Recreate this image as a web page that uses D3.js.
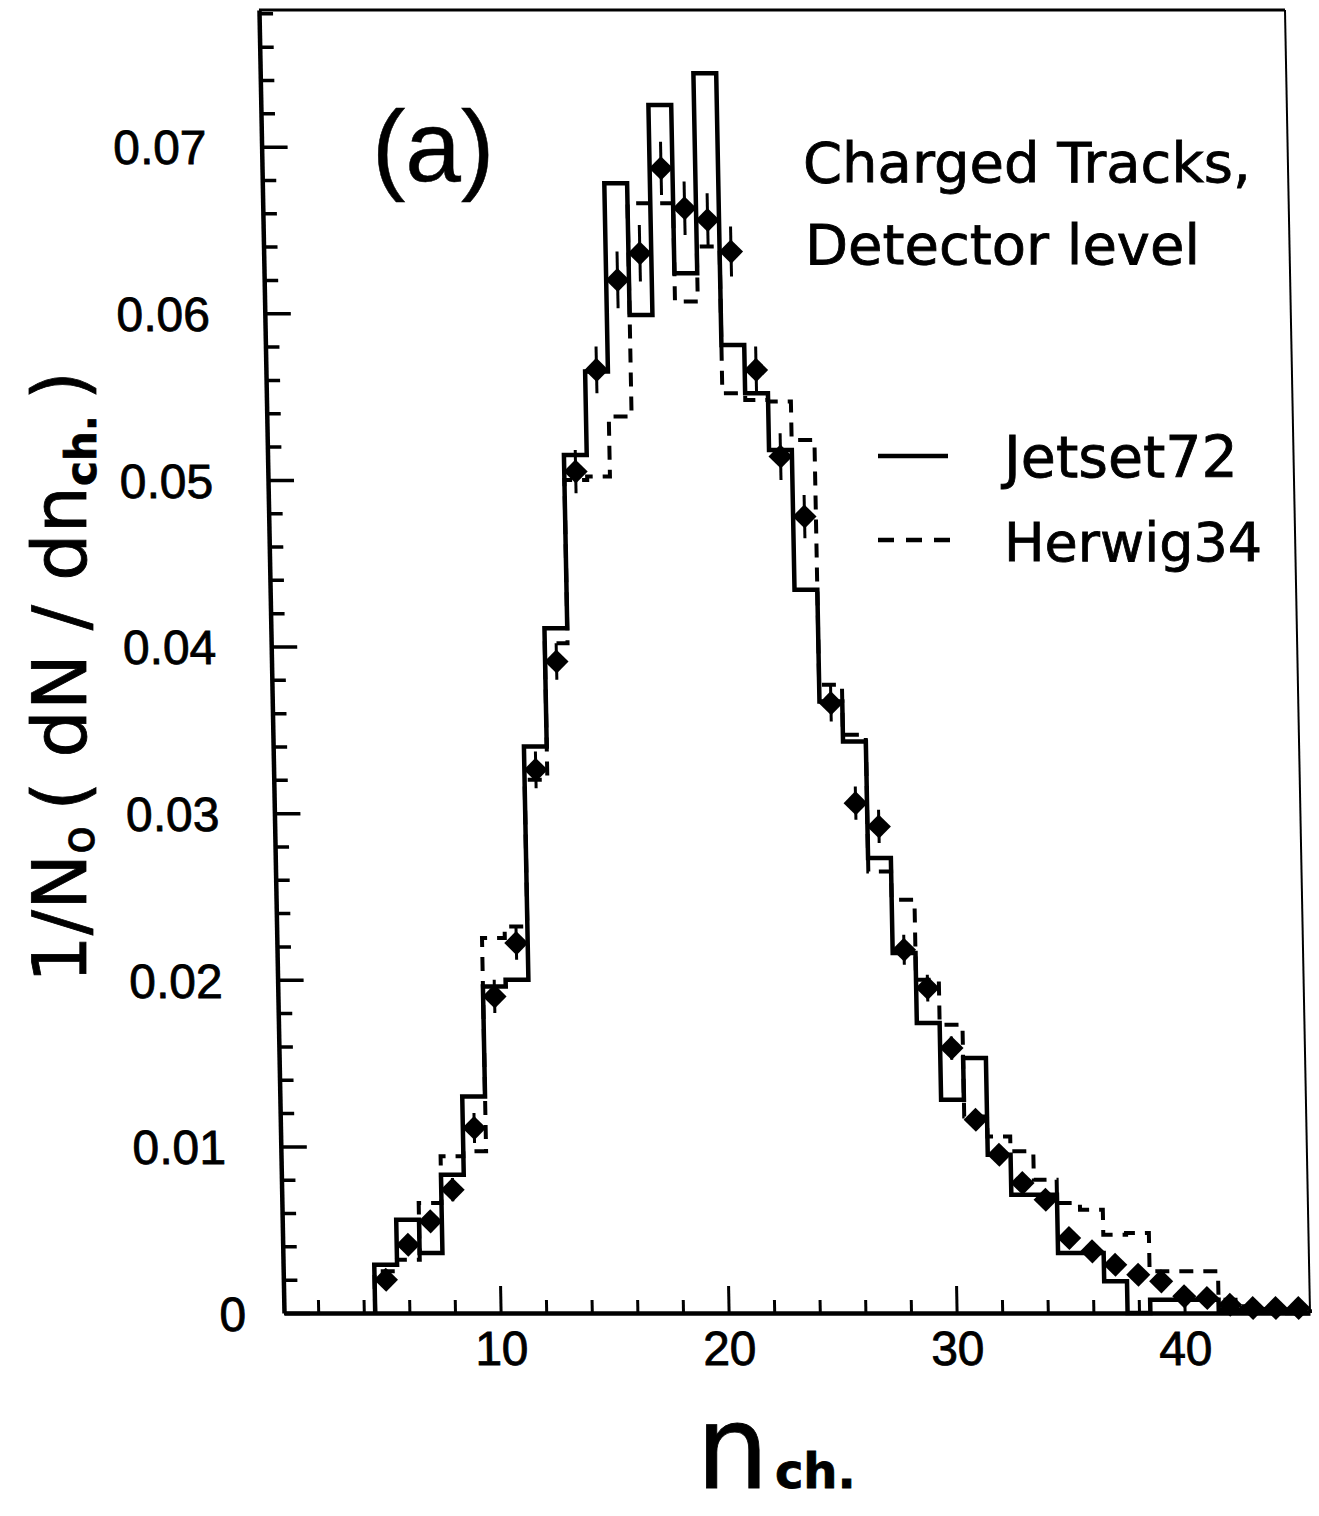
<!DOCTYPE html>
<html>
<head>
<meta charset="utf-8">
<script src="https://cdn.jsdelivr.net/npm/d3@7"></script>
<style>
  body { margin: 0; background: #fff; }
  svg { display: block; background: #fff; }
  text { fill: #000; stroke: #000; stroke-width: 0.8px; }
</style>
</head>
<body>
<svg id="chart" width="1319" height="1516"></svg>
<script>
// Charged multiplicity n_ch (bin centres, width 1)
const nValues = [5, 6, 7, 8, 9, 10, 11, 12, 13, 14, 15, 16, 17, 18, 19, 20, 21, 22, 23, 24, 25,
  26, 27, 28, 29, 30, 31, 32, 33, 34, 35, 36, 37, 38, 39, 40, 41, 42, 43, 44, 45];

// Measured distribution 1/N0 dN/dn_ch (detector level) and its errors
const dataValues = [0.0020, 0.0041, 0.0055, 0.0074, 0.0111, 0.0190, 0.0222, 0.0326, 0.0391, 0.0505,
  0.0566, 0.0620, 0.0636, 0.0687, 0.0663, 0.0656, 0.0637, 0.0566, 0.0514, 0.0478,
  0.0366, 0.0306, 0.0292, 0.0218, 0.0195, 0.0159, 0.0116, 0.0095, 0.0078, 0.0068,
  0.0045, 0.0037, 0.0029, 0.0023, 0.0019, 0.0010, 0.0009, 0.0005, 0.0003, 0.0003, 0.0003];
const dataErrors = [0.0004, 0.0005, 0.0006, 0.0007, 0.0009, 0.0010, 0.0010, 0.0011, 0.0011, 0.0013,
  0.0014, 0.0017, 0.0017, 0.0016, 0.0016, 0.0016, 0.0015, 0.0014, 0.0014, 0.0013,
  0.0011, 0.0010, 0.0010, 0.0009, 0.0008, 0.0007, 0.0006, 0.0005, 0.0005, 0.0004,
  0.0003, 0.0003, 0.0002, 0.0002, 0.0002, 0.0001, 0.0001, 0.0001, 0.0001, 0.0001, 0.0001];

// Monte Carlo predictions
const jetsetValues = [0.0029, 0.0056, 0.0036, 0.0083, 0.0130, 0.0196, 0.0200, 0.0340, 0.0411, 0.0515,
  0.0565, 0.0678, 0.0599, 0.0725, 0.0624, 0.0744, 0.0581, 0.0552, 0.0518, 0.0434,
  0.0367, 0.0343, 0.0273, 0.0216, 0.0174, 0.0128, 0.0153, 0.0095, 0.0071, 0.0071,
  0.0036, 0.0036, 0.0019, 0.0000, 0.0008, 0.0008, 0.0008, 0.0002, 0.0001, 0.0001, 0.0000];
const herwigValues = [0.0025, 0.0032, 0.0066, 0.0094, 0.0097, 0.0225, 0.0232, 0.0320, 0.0402, 0.0500,
  0.0502, 0.0538, 0.0666, 0.0666, 0.0607, 0.0640, 0.0552, 0.0548, 0.0547, 0.0524,
  0.0377, 0.0347, 0.0265, 0.0248, 0.0200, 0.0173, 0.0118, 0.0106, 0.0097, 0.0080,
  0.0066, 0.0062, 0.0047, 0.0048, 0.0025, 0.0025, 0.0025, 0.0008, 0.0004, 0.0002, 0.0001];

// Axis ticks
const xTickValues = [10, 20, 30, 40];
const xMinorTicks = [2, 4, 6, 8, 12, 14, 16, 18, 22, 24, 26, 28, 32, 34, 36, 38, 42, 44];
const yTickValues = [0, 0.01, 0.02, 0.03, 0.04, 0.05, 0.06, 0.07];
const yTickLabels = ["0", "0.01", "0.02", "0.03", "0.04", "0.05", "0.06", "0.07"];
const yMinorTicks = d3.range(1, 40).map(i => +(i * 0.002).toFixed(3)).filter(v => Math.round(v * 1000) % 10 !== 0);

const legendNames = ["Jetset72", "Herwig34"];

const plotLeft = 284, plotRight = 1310, plotTop = 10, plotBottom = 1313;
const x = d3.scaleLinear().domain([0.5, 45.5]).range([plotLeft, plotRight]);
const y = d3.scaleLinear().domain([0, 0.0782]).range([plotBottom, plotTop]);

const svg = d3.select("#chart");
const sans = '"DejaVu Sans", sans-serif';
const narrow = '"Liberation Sans", Arial, sans-serif';

// plot body leans slightly (sheared frame)
const g = svg.append("g")
  .attr("transform", `translate(0,${plotBottom}) skewX(1.1) translate(0,${-plotBottom})`);

// frame top and right
g.append("line").attr("x1", plotLeft).attr("x2", plotRight).attr("y1", plotTop).attr("y2", plotTop)
  .attr("stroke", "#000").attr("stroke-width", 3);
g.append("line").attr("x1", plotRight).attr("x2", plotRight).attr("y1", plotTop).attr("y2", plotBottom)
  .attr("stroke", "#000").attr("stroke-width", 2);

// y axis
const yAxis = g.append("g").attr("transform", `translate(${plotLeft},0)`)
  .call(d3.axisLeft(y).tickValues(yTickValues).tickSizeInner(-26).tickSizeOuter(0)
    .tickPadding(55).tickFormat((d, i) => yTickLabels[i]));
yAxis.select(".domain").attr("stroke-width", 4.5);
yAxis.selectAll(".tick line").attr("stroke-width", 3.5);
yAxis.selectAll(".tick text").attr("font-family", narrow).attr("font-size", 48).attr("dy", "0.36em");
// the zero label sits closer to the axis
yAxis.selectAll(".tick text").filter(d => d === 0).attr("x", -38);
g.append("g").attr("transform", `translate(${plotLeft},0)`)
  .call(d3.axisLeft(y).tickValues(yMinorTicks).tickSizeInner(-14).tickSizeOuter(0).tickFormat(""))
  .call(a => a.select(".domain").remove())
  .selectAll(".tick line").attr("stroke-width", 3.5);

// x axis
const xAxis = g.append("g").attr("transform", `translate(0,${plotBottom})`)
  .call(d3.axisBottom(x).tickValues(xTickValues).tickSizeInner(-27).tickSizeOuter(0)
    .tickPadding(18).tickFormat(d3.format("d")));
xAxis.select(".domain").attr("stroke-width", 4.5);
xAxis.selectAll(".tick line").attr("stroke-width", 3);
xAxis.selectAll(".tick text").attr("font-family", narrow).attr("font-size", 48);
g.append("g").attr("transform", `translate(0,${plotBottom})`)
  .call(d3.axisBottom(x).tickValues(xMinorTicks).tickSizeInner(-13).tickSizeOuter(0).tickFormat(""))
  .call(a => a.select(".domain").remove())
  .selectAll(".tick line").attr("stroke-width", 3);

// step histograms
function stepPath(vals) {
  const p = d3.path();
  p.moveTo(x(nValues[0] - 0.5), y(0));
  nValues.forEach((n, i) => {
    p.lineTo(x(n - 0.5), y(vals[i]));
    p.lineTo(x(n + 0.5), y(vals[i]));
  });
  p.lineTo(x(nValues[nValues.length - 1] + 0.5), y(0));
  return p.toString();
}
g.append("path").attr("d", stepPath(herwigValues))
  .attr("fill", "none").attr("stroke", "#000").attr("stroke-width", 4)
  .attr("stroke-dasharray", "14 10");
g.append("path").attr("d", stepPath(jetsetValues))
  .attr("fill", "none").attr("stroke", "#000").attr("stroke-width", 4.5)
  .attr("stroke-linejoin", "miter");

// data points with error bars
const pts = g.append("g");
pts.selectAll("line.err").data(nValues).join("line")
  .attr("class", "err")
  .attr("x1", d => x(d)).attr("x2", d => x(d))
  .attr("y1", (d, i) => y(dataValues[i] + dataErrors[i]))
  .attr("y2", (d, i) => y(dataValues[i] - dataErrors[i]))
  .attr("stroke", "#000").attr("stroke-width", 3);
pts.selectAll("path.pt").data(nValues).join("path")
  .attr("class", "pt")
  .attr("d", d3.symbol(d3.symbolSquare, 290))
  .attr("transform", (d, i) => `translate(${x(d)},${y(dataValues[i])}) rotate(45)`)
  .attr("fill", "#000");

// panel label and caption
svg.append("text").attr("x", 372).attr("y", 181)
  .attr("font-family", narrow).attr("font-size", 100).style("stroke-width", "0.5px").text("(a)");
svg.append("text").attr("x", 803).attr("y", 182)
  .attr("font-family", sans).attr("font-size", 56).text("Charged Tracks,");
svg.append("text").attr("x", 805).attr("y", 264)
  .attr("font-family", sans).attr("font-size", 56).text("Detector level");

// legend
svg.append("line").attr("x1", 878).attr("x2", 948).attr("y1", 456).attr("y2", 456)
  .attr("stroke", "#000").attr("stroke-width", 4.5);
svg.append("line").attr("x1", 878).attr("x2", 950).attr("y1", 540).attr("y2", 540)
  .attr("stroke", "#000").attr("stroke-width", 4.5).attr("stroke-dasharray", "16 12");
svg.append("text").attr("x", 1004).attr("y", 477)
  .attr("font-family", sans).attr("font-size", 57).text(legendNames[0]);
svg.append("text").attr("x", 1004).attr("y", 561)
  .attr("font-family", sans).attr("font-size", 54).text(legendNames[1]);

// y axis title
const yt = svg.append("text")
  .attr("transform", "translate(86,677) rotate(-90)")
  .attr("text-anchor", "middle")
  .attr("font-family", sans).attr("font-size", 75);
yt.append("tspan").text("1/N");
yt.append("tspan").attr("font-size", 46).attr("dy", 8).text("o");
yt.append("tspan").attr("dy", -8).text("\u2009( dN / dn");
yt.append("tspan").attr("font-size", 42).attr("font-weight", "bold").attr("dy", 10).text("ch.");
yt.append("tspan").attr("dy", -10).text("\u2009)");

// x axis title
const xt = svg.append("text").attr("x", 696).attr("y", 1488)
  .attr("font-family", sans).attr("font-size", 115);
xt.append("tspan").text("n");
xt.append("tspan").attr("font-size", 48).attr("font-weight", "bold").attr("dx", 6).text("ch.");
</script>
</body>
</html>
